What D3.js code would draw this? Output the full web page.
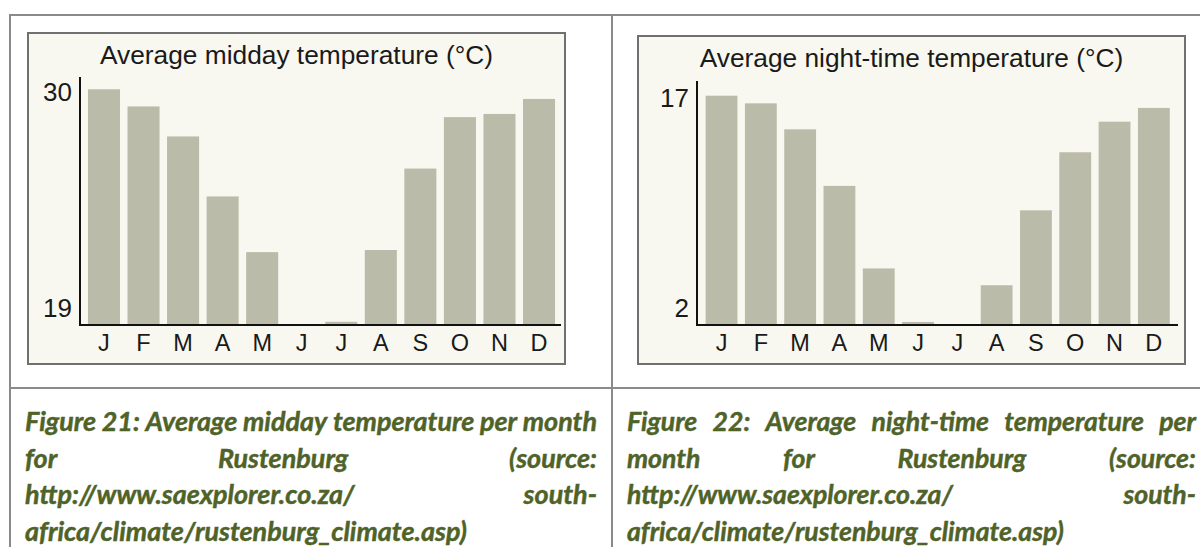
<!DOCTYPE html>
<html>
<head>
<meta charset="utf-8">
<script src="https://cdn.jsdelivr.net/npm/d3@7"></script>
<style>
  html, body { margin: 0; padding: 0; background: #ffffff; }
  svg { display: block; }
</style>
</head>
<body>
<svg id="page" width="1200" height="547"></svg>
<script>
// ---------- DATA ----------
const monthIds = ["Jan","Feb","Mar","Apr","May","Jun","Jul","Aug","Sep","Oct","Nov","Dec"];
const monthLetters = ["J","F","M","A","M","J","J","A","S","O","N","D"];
const middayValues = [30, 29.2, 27.8, 25, 22.4, 19, 19.15, 22.5, 26.3, 28.7, 28.85, 29.55];
const nightValues  = [17, 16.5, 14.8, 11.1, 5.7, 2.2, 2, 4.6, 9.5, 13.3, 15.3, 16.2];
const middayTicks = [19, 30];
const nightTicks  = [2, 17];
const middayTitle = "Average midday temperature (°C)";
const nightTitle  = "Average night-time temperature (°C)";
const caption21 = [
  "Figure 21: Average midday temperature per month",
  "for Rustenburg (source:",
  "http://www.saexplorer.co.za/ south-",
  "africa/climate/rustenburg_climate.asp)"
];
const caption22 = [
  "Figure 22: Average night-time temperature per",
  "month for Rustenburg (source:",
  "http://www.saexplorer.co.za/ south-",
  "africa/climate/rustenburg_climate.asp)"
];

// ---------- STYLE ----------
const BAR = "#bbbbaa";
const PANEL_BG = "#f9f8f0";
const PANEL_BORDER = "#707070";
const GRID = "#8a8a8a";
const CAPTION = "#4f6228";
const CHART_FONT = "Arial, 'Liberation Sans', sans-serif";
const CAPTION_FONT = "Lato, 'Open Sans', sans-serif";

const svg = d3.select("#page");
svg.append("rect").attr("width", 1200).attr("height", 547).attr("fill", "#fff");

// ---------- TABLE FRAME ----------
const frame = svg.append("g").attr("stroke", GRID).attr("stroke-width", 2).attr("fill", "none");
frame.append("line").attr("x1", 10).attr("x2", 1200).attr("y1", 15).attr("y2", 15);
frame.append("line").attr("x1", 10).attr("x2", 1200).attr("y1", 388).attr("y2", 388);
frame.append("line").attr("x1", 10).attr("x2", 10).attr("y1", 14).attr("y2", 547);
frame.append("line").attr("x1", 612).attr("x2", 612).attr("y1", 14).attr("y2", 547);

// ---------- CHART ----------
function drawChart(cfg) {
  const g = svg.append("g");
  g.append("rect")
    .attr("x", cfg.box[0]).attr("y", cfg.box[1])
    .attr("width", cfg.box[2] - cfg.box[0]).attr("height", cfg.box[3] - cfg.box[1])
    .attr("fill", PANEL_BG).attr("stroke", PANEL_BORDER).attr("stroke-width", 2);

  g.append("text")
    .attr("x", (cfg.box[0] + cfg.box[2]) / 2).attr("y", cfg.titleY)
    .attr("text-anchor", "middle")
    .attr("font-family", CHART_FONT).attr("font-size", 26.3)
    .attr("fill", "#1a1a1a")
    .text(cfg.title);

  const x = d3.scaleBand().domain(monthIds).range(cfg.xRange)
    .paddingInner(0.19).paddingOuter(0.095);
  const y = d3.scaleLinear().domain(cfg.domain).range([cfg.baseY, cfg.topY]);

  g.append("g").selectAll("rect")
    .data(cfg.values)
    .join("rect")
    .attr("x", (d, i) => x(monthIds[i]))
    .attr("width", x.bandwidth())
    .attr("y", d => y(d))
    .attr("height", d => Math.max(0, y(cfg.domain[0]) - y(d)))
    .attr("fill", BAR);

  const ya = g.append("g")
    .attr("transform", `translate(${cfg.axisX},0)`)
    .call(d3.axisLeft(y).tickValues(cfg.ticks).tickSize(0).tickPadding(8).tickFormat(d3.format("d")));
  ya.select(".domain").remove();
  ya.selectAll("text")
    .attr("font-family", CHART_FONT).attr("font-size", 26).attr("fill", "#1a1a1a")
    .attr("dy", d => d === cfg.domain[0] ? "-0.33em" : "0.42em");

  const xa = g.append("g")
    .attr("transform", `translate(0,${cfg.baseY})`)
    .call(d3.axisBottom(x).tickSize(0).tickPadding(0).tickFormat((d, i) => monthLetters[i]));
  xa.select(".domain").remove();
  xa.selectAll("text")
    .attr("font-family", CHART_FONT).attr("font-size", 23.5).attr("fill", "#1a1a1a")
    .attr("y", 0).attr("dy", 26);

  g.append("line")
    .attr("x1", cfg.axisX).attr("x2", cfg.axisX)
    .attr("y1", cfg.axisTop).attr("y2", cfg.baseY + 1)
    .attr("stroke", "#111").attr("stroke-width", 2);
  g.append("line")
    .attr("x1", cfg.axisX - 1).attr("x2", cfg.axisEnd)
    .attr("y1", cfg.baseY).attr("y2", cfg.baseY)
    .attr("stroke", "#111").attr("stroke-width", 2);
}

drawChart({
  box: [28, 33, 565, 364], title: middayTitle, titleY: 64,
  xRange: [84.2, 558.8], domain: [19, 30], baseY: 325, topY: 89.3,
  values: middayValues, ticks: middayTicks,
  axisX: 80, axisTop: 77, axisEnd: 561
});
drawChart({
  box: [638, 36, 1185, 364], title: nightTitle, titleY: 67,
  xRange: [701.9, 1173.5], domain: [2, 17], baseY: 325, topY: 95.7,
  values: nightValues, ticks: nightTicks,
  axisX: 697, axisTop: 81, axisEnd: 1178
});

// ---------- CAPTIONS (justified) ----------
const capBaselines = [431, 467.7, 504.3, 541];
function drawCaption(lines, x0, x1, targetLastWidth) {
  const g = svg.append("g")
    .attr("font-family", CAPTION_FONT).attr("font-weight", "bold")
    .attr("font-style", "italic").attr("fill", CAPTION)
    .attr("stroke", CAPTION).attr("stroke-width", 0.45);
  const probe = g.append("text").attr("font-size", 100).text(lines[lines.length - 1]);
  const fs = 100 * targetLastWidth / probe.node().getComputedTextLength();
  probe.remove();
  g.attr("font-size", fs);
  lines.forEach((line, li) => {
    const words = line.split(" ");
    const y = capBaselines[li];
    if (li === lines.length - 1 || words.length === 1) {
      g.append("text").attr("x", x0).attr("y", y).text(line);
      return;
    }
    const nodes = words.map(w => g.append("text").attr("y", y).text(w));
    const widths = nodes.map(n => n.node().getComputedTextLength());
    const gap = (x1 - x0 - d3.sum(widths)) / (words.length - 1);
    let cx = x0;
    nodes.forEach((n, i) => { n.attr("x", cx); cx += widths[i] + gap; });
  });
}
drawCaption(caption21, 25, 597, 442);
drawCaption(caption22, 627, 1196, 437);
</script>
</body>
</html>
